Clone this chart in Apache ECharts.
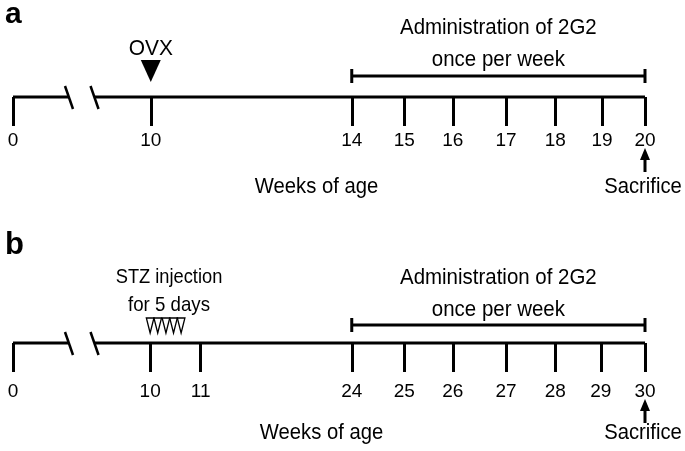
<!DOCTYPE html>
<html>
<head>
<meta charset="utf-8">
<script src="https://cdn.jsdelivr.net/npm/echarts@6/dist/echarts.min.js"></script>
<style>html,body{margin:0;padding:0;background:#fff}#c{width:685px;height:451px}</style>
</head>
<body>
<div id="c"></div>
<script>
// ---- data (schematic positions on a 0..100 timeline scale) ----
const weeksA = ['0','10','14','15','16','17','18','19','20'];
const posA   = [0, 21.8, 53.6, 61.9, 69.6, 78.0, 85.8, 93.2, 100];
const weeksB = ['0','10','11','24','25','26','27','28','29','30'];
const posB   = [0, 21.7, 29.7, 53.6, 61.9, 69.6, 78.0, 85.8, 93.0, 100];
const breakPos = [8.86, 12.9];
const ovxPos = [21.8];
const stzPos = [21.7, 22.9, 24.2, 25.4, 26.6];
const adminA = [[53.6, 100]];
const adminB = [[53.6, 100]];
const sacrificeA = [100];
const sacrificeB = [100];
const adminText = ['Administration of 2G2', 'once per week'];
const stzText = ['STZ injection', 'for 5 days'];

const FONT = "'Liberation Sans',Arial,sans-serif";
const SX = 0.92;
const chart = echarts.init(document.getElementById('c'), null, {renderer: 'canvas'});

function txt(text, x, y, size, sx) {
  return {type: 'text', x: x, y: y, scaleX: sx || SX, scaleY: 1, originX: 0, originY: 0,
    style: {text: text, x: 0, y: 0, align: 'center', verticalAlign: 'middle', fontSize: size, fontFamily: FONT, fill: '#000'}};
}

function xAxisFor(gi, pos, weeks, margin) {
  return {
    type: 'value', gridIndex: gi, min: 0, max: 100, position: 'bottom',
    axisLine: {show: false}, splitLine: {show: false},
    axisTick: {show: true, customValues: pos, length: 29, lineStyle: {color: '#000', width: 3}},
    axisLabel: {
      show: true, customValues: pos, margin: margin, color: '#000', fontSize: 19, fontFamily: FONT,
      formatter: function (v) {
        let best = 0;
        pos.forEach((p, i) => { if (Math.abs(p - v) < Math.abs(pos[best] - v)) best = i; });
        return weeks[best];
      }
    }
  };
}
function baseLine(gi) {
  return {
    type: 'line', xAxisIndex: gi, yAxisIndex: gi, symbol: 'none', clip: false, silent: true,
    lineStyle: {color: '#000', width: 3},
    data: [[0, 0], [breakPos[0], 0], null, [breakPos[1], 0], [100, 0]],
    connectNulls: false
  };
}
function slashes(gi) {
  return {
    type: 'custom', xAxisIndex: gi, yAxisIndex: gi, clip: false, silent: true,
    data: breakPos.map(v => [v, 0]),
    renderItem: function (params, api) {
      const c = api.coord([api.value(0), 0]);
      return {type: 'line', shape: {x1: c[0] - 4, y1: c[1] - 11, x2: c[0] + 4, y2: c[1] + 12},
        style: {stroke: '#000', lineWidth: 2.5}};
    }
  };
}
function admin(gi, data, lift, textOff) {
  return {
    type: 'custom', xAxisIndex: gi, yAxisIndex: gi, clip: false, silent: true,
    data: data,
    renderItem: function (params, api) {
      const a = api.coord([api.value(0), 0]);
      const b = api.coord([api.value(1), 0]);
      const y = a[1] - lift;
      const mid = (a[0] + b[0]) / 2;
      const st = {stroke: '#000', lineWidth: 3};
      return {type: 'group', children: [
        {type: 'line', shape: {x1: a[0], y1: y, x2: b[0], y2: y}, style: st},
        {type: 'line', shape: {x1: a[0], y1: y - 7, x2: a[0], y2: y + 7}, style: st},
        {type: 'line', shape: {x1: b[0], y1: y - 7, x2: b[0], y2: y + 7}, style: st},
        txt(adminText[0], mid, a[1] - textOff[0], 22, 0.93),
        txt(adminText[1], mid, a[1] - textOff[1], 22, 0.93)
      ]};
    }
  };
}
function sacrifice(gi, data, tip, textY) {
  return {
    type: 'custom', xAxisIndex: gi, yAxisIndex: gi, clip: false, silent: true,
    data: data.map(v => [v, 0]),
    renderItem: function (params, api) {
      const c = api.coord([api.value(0), 0]);
      return {type: 'group', children: [
        {type: 'polygon', shape: {points: [[c[0], c[1] + tip], [c[0] - 5, c[1] + tip + 12], [c[0] + 5, c[1] + tip + 12]]}, style: {fill: '#000'}},
        {type: 'line', shape: {x1: c[0], y1: c[1] + tip + 10, x2: c[0], y2: c[1] + tip + 24}, style: {stroke: '#000', lineWidth: 3}},
        txt('Sacrifice', c[0] - 2, c[1] + textY, 22, 0.92)
      ]};
    }
  };
}

const option = {
  backgroundColor: '#fff',
  animation: false,
  grid: [
    {left: 13, right: 40, top: 0, bottom: 451 - 97},
    {left: 13, right: 40, top: 250, bottom: 451 - 343}
  ],
  xAxis: [xAxisFor(0, posA, weeksA, 34), xAxisFor(1, posB, weeksB, 39)],
  yAxis: [
    {type: 'value', gridIndex: 0, min: 0, max: 1, show: false},
    {type: 'value', gridIndex: 1, min: 0, max: 1, show: false}
  ],
  graphic: [
    {type: 'text', left: 5, top: 0, style: {text: 'a', fontSize: 30, fontWeight: 'bold', fontFamily: FONT, fill: '#000'}},
    {type: 'text', left: 5, top: 230, style: {text: 'b', fontSize: 31, fontWeight: 'bold', fontFamily: FONT, fill: '#000'}},
    txt('Weeks of age', 316.5, 187, 22, 0.92),
    txt('Weeks of age', 321.5, 433, 22, 0.92),
    txt(stzText[0], 169, 277, 21, 0.87),
    txt(stzText[1], 169, 305, 21, 0.89)
  ],
  series: [
    baseLine(0), baseLine(1), slashes(0), slashes(1),
    {
      type: 'custom', xAxisIndex: 0, yAxisIndex: 0, clip: false, silent: true,
      data: ovxPos.map(v => [v, 0]),
      renderItem: function (params, api) {
        const c = api.coord([api.value(0), 0]);
        return {type: 'group', children: [
          {type: 'polygon', shape: {points: [[c[0] - 10, c[1] - 37], [c[0] + 10, c[1] - 37], [c[0], c[1] - 15]]}, style: {fill: '#000'}},
          txt('OVX', c[0], c[1] - 48, 22, 0.95)
        ]};
      }
    },
    {
      type: 'custom', xAxisIndex: 1, yAxisIndex: 1, clip: false, silent: true,
      data: stzPos.map(v => [v, 0]),
      renderItem: function (params, api) {
        const c = api.coord([api.value(0), 0]);
        return {type: 'polygon', shape: {points: [[c[0] - 3.8, c[1] - 25], [c[0] + 3.8, c[1] - 25], [c[0], c[1] - 10]]},
          style: {fill: '#fff', stroke: '#000', lineWidth: 1.3}};
      }
    },
    admin(0, adminA, 21, [69, 37]),
    admin(1, adminB, 18, [65, 33]),
    sacrifice(0, sacrificeA, 51, 90),
    sacrifice(1, sacrificeB, 56, 90)
  ]
};
chart.setOption(option);
</script>
</body>
</html>
